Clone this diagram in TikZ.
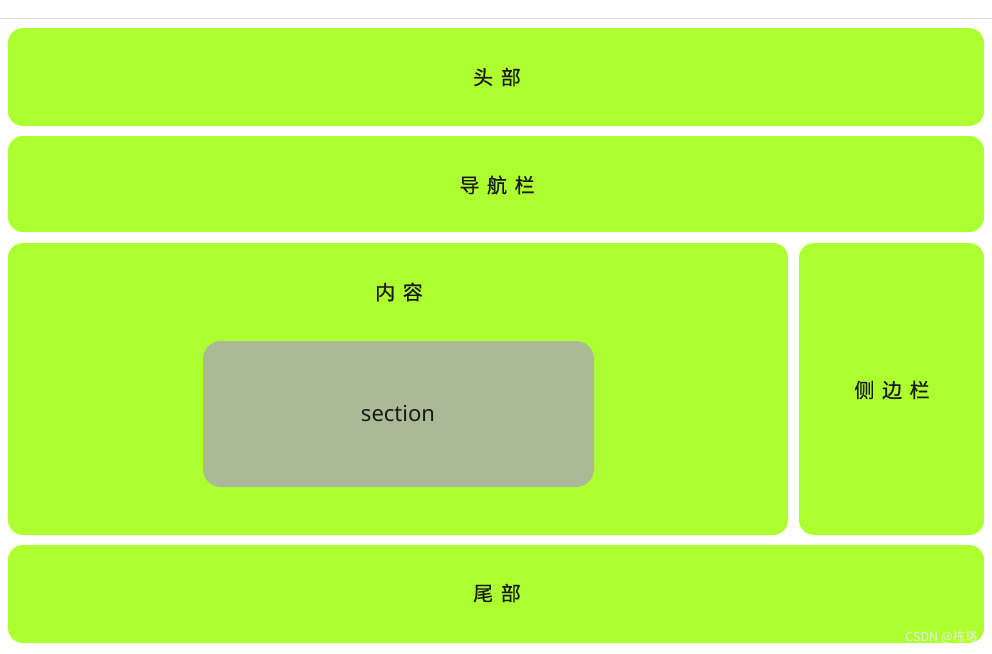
\documentclass[tikz,border=0pt]{standalone}
\usepackage{fontspec}
\newfontfamily\cjk[FakeBold=0.6]{Noto Sans CJK SC}
\newfontfamily\cjkwm{Noto Sans CJK SC}
\newfontfamily\latinsans{Noto Sans}
\definecolor{boxgreen}{RGB}{173,255,47}
\definecolor{secgray}{RGB}{170,185,150}
\definecolor{rulegray}{RGB}{220,220,220}
\definecolor{txt}{RGB}{25,25,25}
\definecolor{wmgray}{RGB}{235,235,235}
\newcommand{\cjkgap}{\hspace{0.38em}}
\begin{document}
\begin{tikzpicture}[x=1pt,y=-1pt,
  panel/.style={fill=boxgreen,draw=none,rounded corners=15pt},
  secbox/.style={fill=secgray,draw=none,rounded corners=18pt},
  lbl/.style={font=\cjk\fontsize{20}{20}\selectfont,text=txt,inner sep=0pt},
  lat/.style={font=\latinsans\fontsize{22}{22}\selectfont,text=txt,inner sep=0pt}]
\useasboundingbox (0,0) rectangle (992,653);
\fill[white] (0,0) rectangle (992,653);
\draw[rulegray,line width=1.5pt] (0,18.5) -- (992,18.5);
\fill[panel] (8,28) rectangle (984,126);
\fill[panel] (8,136) rectangle (984,232);
\fill[panel] (8,243) rectangle (788,535);
\fill[panel] (799,243) rectangle (984,535);
\fill[panel] (8,545) rectangle (984,643);
\fill[secbox] (203,341) rectangle (594,487);
\node[lbl] (head) at (497,77) {头\cjkgap 部};
\node[lbl] (nav) at (497,185) {导\cjkgap 航\cjkgap 栏};
\node[lbl] (content) at (399,292) {内\cjkgap 容};
\node[lat] (section) at (398,413) {section};
\node[lbl] (side) at (892,390) {侧\cjkgap 边\cjkgap 栏};
\node[lbl] (foot) at (497,593) {尾\cjkgap 部};
\node[font=\cjkwm\fontsize{12.5}{12.5}\selectfont,text=wmgray,inner sep=0pt,anchor=east] (wm) at (978,637) {CSDN @栋珞};
\end{tikzpicture}
\end{document}
